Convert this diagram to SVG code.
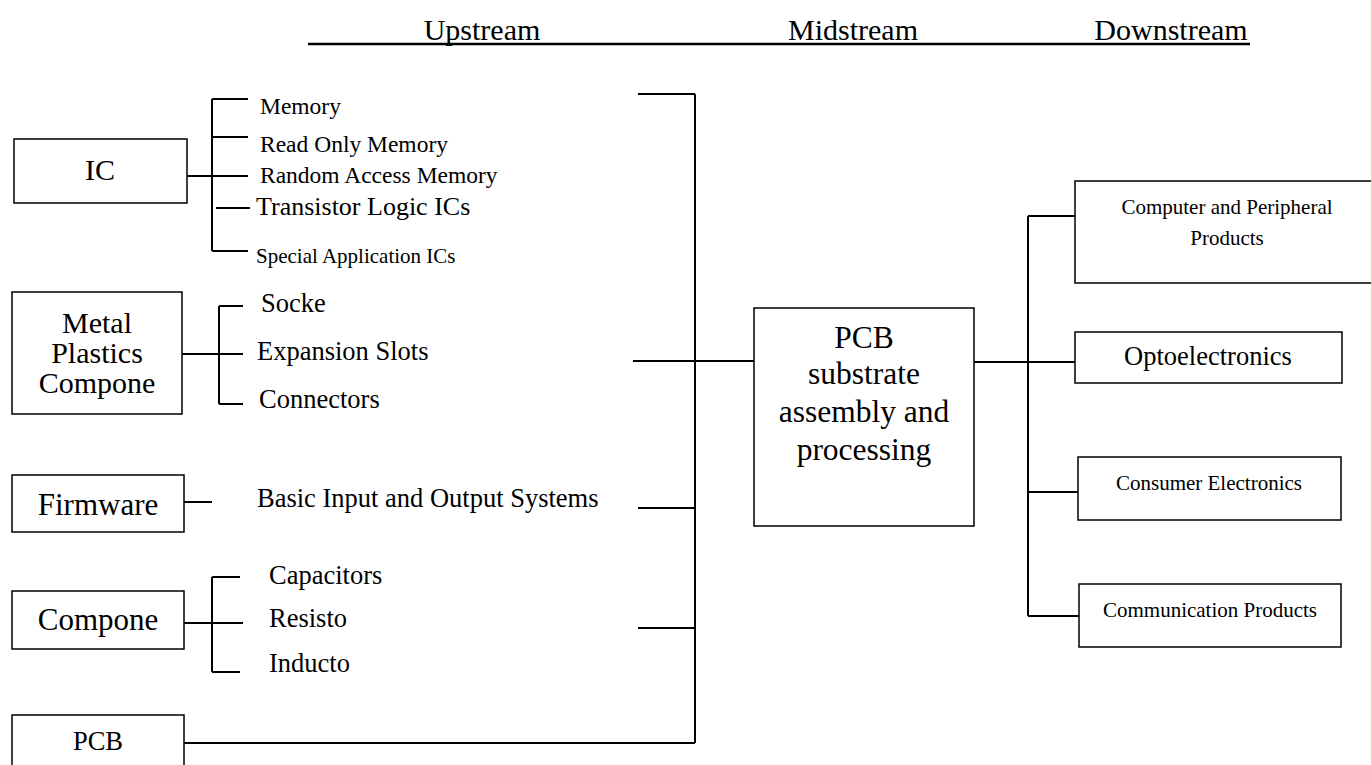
<svg xmlns="http://www.w3.org/2000/svg" width="1371" height="765" viewBox="0 0 1371 765" font-family="'Liberation Serif', 'Times New Roman', 'DejaVu Serif', serif">
<style>
text{font-family:'Liberation Serif','Times New Roman','DejaVu Serif',serif;fill:#000}
.box{fill:#fff;stroke:#000;stroke-width:1.5}
.c{text-anchor:middle}
.ln{stroke:#000;stroke-width:2;fill:none}
</style>
<rect width="1371" height="765" fill="#fff"/>
<g id="header">
<text x="482" y="40" font-size="30" class="c">Upstream</text>
<text x="853" y="40" font-size="30" class="c">Midstream</text>
<text x="1171" y="40" font-size="30" class="c">Downstream</text>
<line x1="308" y1="44" x2="1250" y2="44" stroke="#000" stroke-width="2.5"/>
</g>
<g id="connectors" class="ln">
<path d="M187 176H212M212 99V251M212 99H248M212 137H248M212 176H248M216 208H250M212 251H248"/>
<path d="M182 354H243M219 306V404M219 306H243M219 404H243"/>
<path d="M184 502H212"/>
<path d="M184 623H243M212 577V672M212 577H240M212 672H240"/>
<path d="M184 743H695"/>
<path d="M695 94V743M638 94H695M633 361H754M638 508H695M638 628H695"/>
<path d="M974 362H1075M1028 216V616M1028 216H1075M1028 492H1078M1028 616H1079"/>
</g>
<g id="node-ic">
<rect class="box" x="14" y="139" width="173" height="64"/>
<text x="100" y="180" font-size="30" class="c">IC</text>
</g>
<g id="ic-items" font-size="23.5">
<text x="260" y="114">Memory</text>
<text x="260" y="152">Read Only Memory</text>
<text x="260" y="183">Random Access Memory</text>
<text x="256" y="215" font-size="26">Transistor Logic ICs</text>
<text x="256" y="263" font-size="21">Special Application ICs</text>
</g>
<g id="node-metal">
<rect class="box" x="12" y="292" width="170" height="122"/>
<text x="97" y="333" font-size="30" class="c">Metal</text>
<text x="97" y="363" font-size="30" class="c">Plastics</text>
<text x="97" y="393" font-size="30" class="c">Compone</text>
</g>
<g id="metal-items" font-size="26.5">
<text x="261" y="312">Socke</text>
<text x="257" y="360">Expansion Slots</text>
<text x="259" y="408">Connectors</text>
</g>
<g id="node-firmware">
<rect class="box" x="12" y="475" width="172" height="57"/>
<text x="98" y="515" font-size="31" class="c">Firmware</text>
</g>
<g id="firmware-items">
<text x="257" y="507" font-size="26.5">Basic Input and Output Systems</text>
</g>
<g id="node-compone">
<rect class="box" x="12" y="591" width="172" height="58"/>
<text x="98" y="630" font-size="31" class="c">Compone</text>
</g>
<g id="compone-items" font-size="26.5">
<text x="269" y="584">Capacitors</text>
<text x="269" y="627">Resisto</text>
<text x="269" y="672">Inducto</text>
</g>
<g id="node-pcb">
<rect class="box" x="12" y="715" width="172" height="60"/>
<text x="98" y="750" font-size="26.5" class="c">PCB</text>
</g>
<g id="node-pcb-substrate">
<rect class="box" x="754" y="308" width="220" height="218"/>
<text x="864" y="348" font-size="31.5" class="c">PCB</text>
<text x="864" y="384" font-size="31.5" class="c">substrate</text>
<text x="864" y="422" font-size="31.5" class="c">assembly and</text>
<text x="864" y="460" font-size="31.5" class="c">processing</text>
</g>
<g id="node-computer">
<rect class="box" x="1075" y="181" width="310" height="102"/>
<text x="1227" y="214" font-size="21" class="c">Computer and Peripheral</text>
<text x="1227" y="245" font-size="21" class="c">Products</text>
</g>
<g id="node-opto">
<rect class="box" x="1075" y="332" width="267" height="51"/>
<text x="1208" y="365" font-size="26.5" class="c">Optoelectronics</text>
</g>
<g id="node-consumer">
<rect class="box" x="1078" y="457" width="263" height="63"/>
<text x="1209" y="490" font-size="21" class="c">Consumer Electronics</text>
</g>
<g id="node-communication">
<rect class="box" x="1079" y="584" width="262" height="63"/>
<text x="1210" y="617" font-size="21" class="c">Communication Products</text>
</g>
</svg>
